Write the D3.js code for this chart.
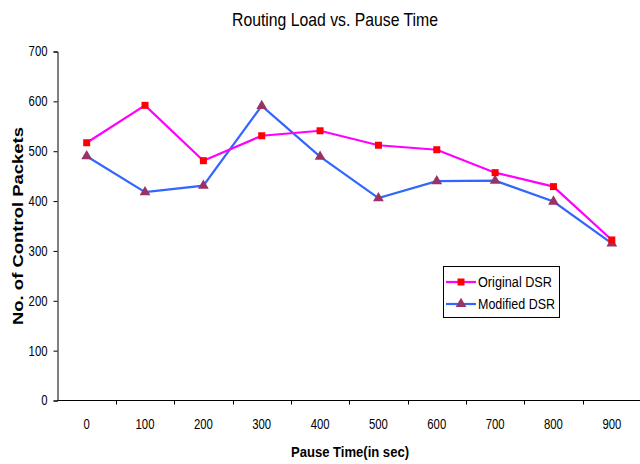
<!DOCTYPE html>
<html>
<head>
<meta charset="utf-8">
<script src="https://cdn.jsdelivr.net/npm/d3@7"></script>
<style>
  html, body { margin: 0; padding: 0; background: #fff; }
  svg { display: block; }
  text { font-family: "Liberation Sans", Arial, sans-serif; fill: #000; }
</style>
</head>
<body>
<svg id="chart" width="640" height="464"></svg>
<script>
// Pause time categories (seconds)
const pauseTimes = ["0", "100", "200", "300", "400", "500", "600", "700", "800", "900"];
// Routing load: number of control packets
const originalDSR = [517, 592, 481, 531, 541, 512, 503, 457, 429, 322];
const modifiedDSR = [490, 418, 431, 591, 489, 406, 440, 441, 399, 315];
const yTicks = [0, 100, 200, 300, 400, 500, 600, 700];

const svg = d3.select("#chart");

const x = d3.scaleBand().domain(pauseTimes).range([57.5, 641]);
const y = d3.scaleLinear().domain([0, 700]).range([400.5, 51.5]);

// Condensed look for numeric labels
const digitWidth = 6.3;
const condense = sel => sel
  .attr("textLength", function () { return this.textContent.length * digitWidth; })
  .attr("lengthAdjust", "spacingAndGlyphs");

// Title
svg.append("text")
  .attr("x", 335).attr("y", 26)
  .attr("text-anchor", "middle")
  .attr("textLength", 206).attr("lengthAdjust", "spacingAndGlyphs")
  .style("font-size", "19px")
  .text("Routing Load vs. Pause Time");

// Y axis
const yAxis = svg.append("g")
  .attr("transform", "translate(57.5,0)")
  .call(d3.axisLeft(y).tickValues(yTicks).tickSize(4).tickPadding(6).tickFormat(d3.format("d")));
yAxis.select(".domain").attr("stroke", "#000");
yAxis.selectAll("text").style("font-size", "14px").style("font-family", null).call(condense);

// X axis with ticks between categories
const xAxisG = svg.append("g").attr("transform", "translate(0,400.5)");
xAxisG.append("line")
  .attr("x1", 57.5).attr("x2", 640).attr("stroke", "#000");
const boundaries = pauseTimes.slice(1).map(d => x(d));
xAxisG.selectAll("line.tick")
  .data(boundaries).join("line")
  .attr("class", "tick")
  .attr("x1", d => Math.round(d) + 0.5).attr("x2", d => Math.round(d) + 0.5)
  .attr("y1", 0).attr("y2", 4)
  .attr("stroke", "#000");
xAxisG.selectAll("text")
  .data(pauseTimes).join("text")
  .attr("x", d => x(d) + x.bandwidth() / 2)
  .attr("y", 28.5)
  .attr("text-anchor", "middle")
  .style("font-size", "14px")
  .text(d => d)
  .call(condense);

// Axis titles
svg.append("text")
  .attr("x", 350).attr("y", 457)
  .attr("text-anchor", "middle")
  .attr("textLength", 118).attr("lengthAdjust", "spacingAndGlyphs")
  .style("font-size", "14px").style("font-weight", "bold")
  .text("Pause Time(in sec)");

svg.append("text")
  .attr("transform", "translate(23,226) rotate(-90)")
  .attr("text-anchor", "middle")
  .attr("textLength", 198).attr("lengthAdjust", "spacingAndGlyphs")
  .style("font-size", "14px").style("font-weight", "bold")
  .text("No. of Control Packets");

const cx = d => x(d) + x.bandwidth() / 2;
const line = d3.line().x((d, i) => cx(pauseTimes[i])).y(d => y(d));

// Modified DSR
svg.append("path").datum(modifiedDSR)
  .attr("d", line).attr("fill", "none")
  .attr("stroke", "#3366FF").attr("stroke-width", 2.2);
// Original DSR
svg.append("path").datum(originalDSR)
  .attr("d", line).attr("fill", "none")
  .attr("stroke", "#FF00FF").attr("stroke-width", 2.2);

const tri = d3.symbol().type(d3.symbolTriangle).size(50);
svg.selectAll("path.tri").data(modifiedDSR).join("path")
  .attr("class", "tri")
  .attr("d", tri)
  .attr("transform", (d, i) => `translate(${cx(pauseTimes[i])},${y(d)})`)
  .attr("fill", "#993366");

svg.selectAll("rect.sq").data(originalDSR).join("rect")
  .attr("class", "sq")
  .attr("x", (d, i) => cx(pauseTimes[i]) - 3.5)
  .attr("y", d => y(d) - 3.5)
  .attr("width", 7).attr("height", 7)
  .attr("fill", "#FF0000");

// Legend
const legend = svg.append("g");
legend.append("rect")
  .attr("x", 443.5).attr("y", 266.5).attr("width", 116).attr("height", 51)
  .attr("fill", "#fff").attr("stroke", "#000");
const legendItems = [
  { name: "Original DSR", color: "#FF00FF", marker: "square", y: 282, len: 74 },
  { name: "Modified DSR", color: "#3366FF", marker: "triangle", y: 304, len: 77 }
];
legendItems.forEach(it => {
  legend.append("line")
    .attr("x1", 446).attr("x2", 476).attr("y1", it.y).attr("y2", it.y)
    .attr("stroke", it.color).attr("stroke-width", 2.2);
  if (it.marker === "square") {
    legend.append("rect").attr("x", 457.5).attr("y", it.y - 3.5)
      .attr("width", 7).attr("height", 7).attr("fill", "#FF0000");
  } else {
    legend.append("path").attr("d", tri)
      .attr("transform", `translate(461,${it.y})`).attr("fill", "#993366");
  }
  legend.append("text")
    .attr("x", 478).attr("y", it.y + 5)
    .attr("textLength", it.len).attr("lengthAdjust", "spacingAndGlyphs")
    .style("font-size", "14px")
    .text(it.name);
});
</script>
</body>
</html>
